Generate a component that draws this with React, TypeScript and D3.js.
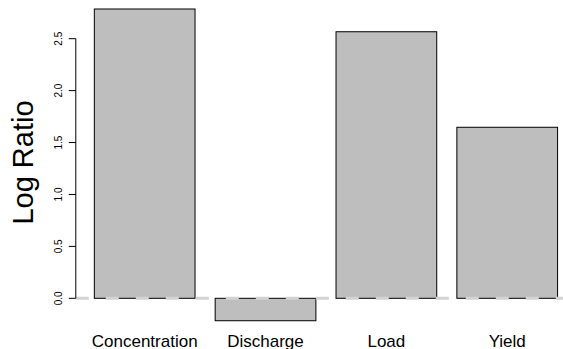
import React from "react";
import * as d3 from "d3";

const categories = ["Concentration", "Discharge", "Load", "Yield"];
const values = [2.786, -0.216, 2.567, 1.647];
const yTicks = [0, 0.5, 1.0, 1.5, 2.0, 2.5];
const yTickLabels = ["0.0", "0.5", "1.0", "1.5", "2.0", "2.5"];
const yTitle = "Log Ratio";

const W = 563;
const H = 349;
const FONT = "'Liberation Sans', Arial, Helvetica, sans-serif";

export default function App() {
  const barWidth = 1;
  const space = 0.2;
  const lefts = categories.map((_, i) => space + i * (barWidth + space));
  const x = d3.scaleLinear().domain([0.016, 4.984]).range([75.8, 576.1]);
  const y = d3.scaleLinear().domain([0, 2.5]).range([298.3, 38.7]);
  const axisX = x(0.016);

  return (
    <svg
      width={W}
      height={H}
      style={{ position: "absolute", left: 0, top: 0, display: "block", background: "#fff" }}
      fontFamily={FONT}
    >
      {categories.map((c, i) => {
        const v = values[i];
        const x0 = x(lefts[i]);
        const x1 = x(lefts[i] + barWidth);
        const ya = y(Math.max(0, v));
        const yb = y(Math.min(0, v));
        return (
          <rect
            key={c}
            x={x0}
            y={ya}
            width={x1 - x0}
            height={yb - ya}
            fill="#bebebe"
            stroke="#000"
            strokeWidth={1}
          />
        );
      })}
      <line
        x1={axisX}
        x2={W}
        y1={y(0)}
        y2={y(0)}
        stroke="#d3d3d3"
        strokeWidth={3}
        strokeDasharray="13 17"
      />
      <line x1={axisX} x2={axisX} y1={y(0)} y2={y(2.5)} stroke="#000" strokeWidth={1} />
      {yTicks.map((t, i) => (
        <g key={t}>
          <line x1={axisX - 7} x2={axisX} y1={y(t)} y2={y(t)} stroke="#000" strokeWidth={1} />
          <text
            transform={`translate(61.7,${y(t)}) rotate(-90)`}
            textAnchor="middle"
            fontSize={10}
            fill="#000"
          >
            {yTickLabels[i]}
          </text>
        </g>
      ))}
      <text
        transform={`translate(33,162.5) rotate(-90)`}
        textAnchor="middle"
        fontSize={29}
        fill="#000"
      >
        {yTitle}
      </text>
      {categories.map((c, i) => (
        <text
          key={c}
          x={x(lefts[i] + barWidth / 2)}
          y={346.5}
          textAnchor="middle"
          fontSize={17}
          fill="#000"
        >
          {c}
        </text>
      ))}
    </svg>
  );
}
